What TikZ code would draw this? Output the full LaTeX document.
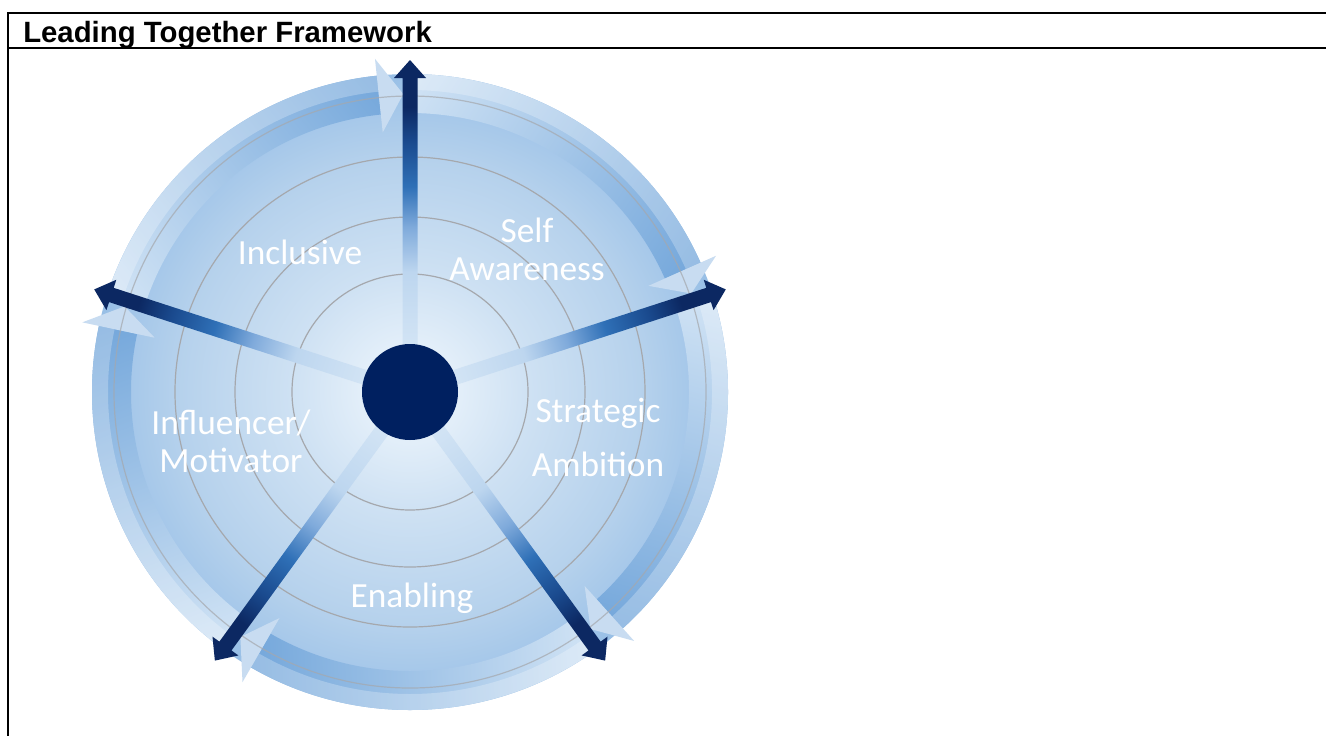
\documentclass[tikz,border=0pt]{standalone}
\usepackage{fontspec}
\setmainfont{Carlito}
\newfontfamily\titlefont{Liberation Sans}
\usetikzlibrary{calc}
\definecolor{navy}{HTML}{002060}
\definecolor{ringgray}{HTML}{A5A8AD}
\definecolor{d0}{HTML}{E2EEF9}
\definecolor{d1}{HTML}{CEE1F3}
\definecolor{d2}{HTML}{B5D1EC}
\definecolor{d3}{HTML}{A3C6E9}
\definecolor{d4}{HTML}{98BFE6}
\definecolor{sA}{HTML}{D4E5F5}
\definecolor{sB}{HTML}{BDD6EF}
\definecolor{sC}{HTML}{7FAADB}
\definecolor{sD}{HTML}{2F70B7}
\definecolor{sE}{HTML}{1A4A8E}
\definecolor{sF}{HTML}{0C2862}
\definecolor{bandS}{HTML}{D2E4F5}
\definecolor{bandE}{HTML}{74A7DB}
\definecolor{headc}{HTML}{C8DCF1}
\pgfdeclareradialshading{diskshade}{\pgfpoint{0bp}{0bp}}{color(0bp)=(d0); color(4bp)=(d0); color(9.4bp)=(d1); color(18.4bp)=(d2); color(22.7bp)=(d3); color(25bp)=(d4); color(50bp)=(d4)}
\pgfdeclarehorizontalshading{spoke}{100bp}{color(0bp)=(sA); color(25bp)=(sA); color(38.7bp)=(sB); color(46.4bp)=(sC); color(53.3bp)=(sD); color(61bp)=(sE); color(67bp)=(sF); color(100bp)=(sF)}
\tikzset{
  label text/.style={text=white, font=\fontsize{26.5}{28.5}\selectfont, inner sep=0pt, align=center},
  ring line/.style={draw=ringgray, line width=0.9pt},
  spoke arrow/.style={shading=spoke, shading angle=0},
  band arrow/.style={left color=bandS, right color=bandE},
  band head/.style={fill=headc},
  band shine/.style={fill=white, opacity=0.25},
  frame line/.style={line width=1.5pt, draw=black},
}
\begin{document}
\begin{tikzpicture}[x=0.75pt, y=0.75pt]
\useasboundingbox (0,0) rectangle (1326,-736);
\fill[white] (0,0) rectangle (1326,-736);
% table frame
\draw[frame line] (1326,-13) -- (8,-13) -- (8,-736);
\draw[frame line] (8,-48) -- (1326,-48);
\node[anchor=base west, inner sep=0pt, font={\titlefont\bfseries\fontsize{22}{26}\selectfont}] (title) at (23,-42) {Leading Together Framework};
% wheel
\coordinate (c) at (410,-392);
\shade[shading=diskshade] (c) circle (318);
\foreach \r in {118,175,235} \draw[ring line] (c) circle (\r);
% curved arrows of the ring
\foreach \te in {90,18,-54,-126,162} {
  \begin{scope}[transform canvas={shift={(410,-392)}, rotate=\te-51}]
    \shade[band arrow] (123:318) arc[start angle=123, end angle=57, radius=318] -- (57:279) arc[start angle=57, end angle=123, radius=279] -- cycle;
    \fill[band shine] (123:318) arc[start angle=123, end angle=57, radius=318] -- (57:302) arc[start angle=57, end angle=123, radius=302] -- cycle;
    \fill[band head] (57:335) -- (52.3:298) -- (57:261) -- cycle;
  \end{scope}
}
\draw[ring line, opacity=0.7] (c) circle (296);
% radial arrows
\foreach \t in {90,18,-54,-126,162} {
  \begin{scope}[transform canvas={shift={(410,-392)}, rotate=\t}]
    \shade[spoke arrow] (40,-7.5) -- (314,-7.5) -- (314,-16) -- (332,0) -- (314,16) -- (314,7.5) -- (40,7.5) -- cycle;
  \end{scope}
}
\node[circle, fill=navy, minimum size=72pt, inner sep=0pt] (hub) at (c) {};
% labels
\node[label text] (inclusive) at (300,-252) {Inclusive};
\node[label text] (selfaw) at (527,-249) {Self\\Awareness};
\node[label text] (strat) at (598,-437) {Strategic\\[12pt]Ambition};
\node[label text] (infl) at (231,-441) {Influencer/\\Motivator};
\node[label text] (enab) at (412,-598) {Enabling};
\end{tikzpicture}
\end{document}
